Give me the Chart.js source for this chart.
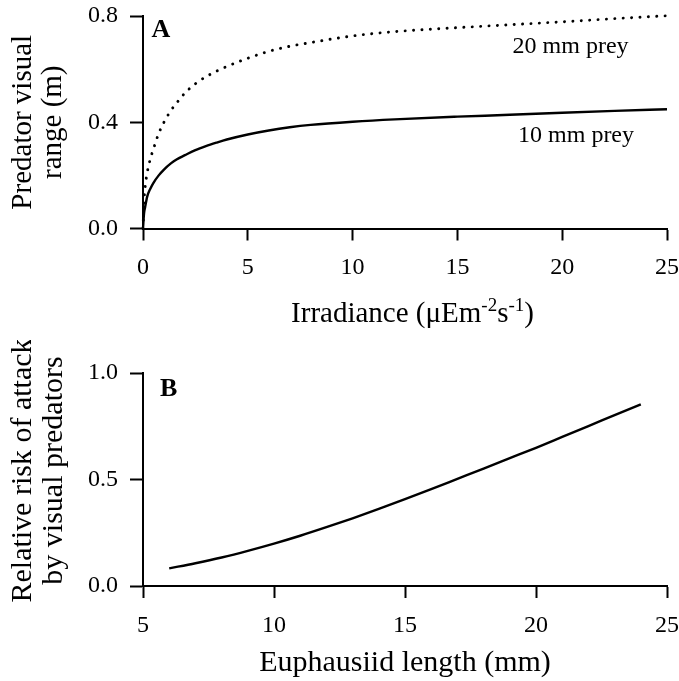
<!DOCTYPE html>
<html><head><meta charset="utf-8">
<script src="https://cdn.jsdelivr.net/npm/chart.js@4.4.1/dist/chart.umd.min.js"></script>
<style>
html,body{margin:0;padding:0;background:#fff;}
#wrap{position:relative;width:679px;height:681px;background:#fff;}
canvas{position:absolute;left:0;}
#cA{top:0;} #cB{top:340px;}
</style></head><body>
<div id="wrap"><canvas id="cA" width="679" height="340"></canvas><canvas id="cB" width="679" height="341"></canvas></div>
<script>
// ---- Panel A data ----
const irradiance = [0, 0.05, 0.1, 0.2, 0.35, 0.5, 0.75, 1, 1.33, 1.6, 2, 2.5, 3, 3.5, 4, 5, 6, 7, 8, 10, 12, 15, 17.5, 20, 22.5, 25];
const range10mm  = [0, 0.057, 0.08, 0.12, 0.15, 0.172, 0.2, 0.222, 0.245, 0.26, 0.276, 0.295, 0.31, 0.323, 0.335, 0.354, 0.369, 0.381, 0.39, 0.402, 0.411, 0.421, 0.428, 0.436, 0.443, 0.449];
const range20mm  = [0, 0.107, 0.155, 0.21, 0.262, 0.3, 0.358, 0.4, 0.444, 0.472, 0.51, 0.545, 0.571, 0.592, 0.61, 0.641, 0.667, 0.686, 0.7, 0.725, 0.741, 0.756, 0.767, 0.778, 0.79, 0.801];
const irradianceTicks = [0, 5, 10, 15, 20, 25];
const rangeTicks = [0, 0.4, 0.8];
const seriesLabelsA = ['10 mm prey', '20 mm prey'];
// ---- Panel B data ----
const euphausiidLength = [6, 7, 8, 9, 10, 11, 12, 13, 14, 15, 16, 17, 18, 19, 20, 21, 22, 23, 24];
const relativeRisk = [0.083, 0.107, 0.134, 0.165, 0.199, 0.236, 0.276, 0.318, 0.362, 0.408, 0.455, 0.503, 0.551, 0.6, 0.649, 0.7, 0.751, 0.802, 0.853];
const lengthTicks = [5, 10, 15, 20, 25];
const riskTicks = [0, 0.5, 1.0];

const SERIF = '"Liberation Serif", "Times New Roman", Times, serif';
const BLACK = '#000';

function pts(xs, ys) { return xs.map((x, i) => ({x: x, y: ys[i]})); }

const textPlugin = {
  id: 'textPlugin',
  afterDraw(chart, args, opts) {
    const ctx = chart.ctx, sx = chart.scales.x, sy = chart.scales.y, ca = chart.chartArea;
    ctx.save();
    ctx.fillStyle = BLACK;
    (opts.labels || []).forEach(l => {
      ctx.font = l.font;
      ctx.textAlign = l.align || 'center';
      ctx.textBaseline = 'middle';
      ctx.fillText(l.text, sx.getPixelForValue(l.x), sy.getPixelForValue(l.y));
    });
    if (opts.supTitle) {
      const t = opts.supTitle;
      let total = 0;
      t.parts.forEach(p => { ctx.font = (p.sup ? t.supSize : t.size) + 'px ' + SERIF; p.w = ctx.measureText(p.text).width; total += p.w; });
      let x = (ca.left + ca.right) / 2 + t.dx - total / 2;
      ctx.textAlign = 'left';
      ctx.textBaseline = 'alphabetic';
      t.parts.forEach(p => {
        ctx.font = (p.sup ? t.supSize : t.size) + 'px ' + SERIF;
        ctx.fillText(p.text, x, t.baseline - (p.sup ? t.rise : 0));
        x += p.w;
      });
    }
    if (opts.yTitle) {
      const t = opts.yTitle;
      const cy = (ca.top + ca.bottom) / 2 + t.dy;
      ctx.font = t.size + 'px ' + SERIF;
      ctx.textAlign = 'center';
      ctx.textBaseline = 'middle';
      t.lines.forEach((line, i) => {
        ctx.save();
        ctx.translate(t.x0 + i * t.gap, cy);
        ctx.rotate(-Math.PI / 2);
        ctx.fillText(line, 0, 0);
        ctx.restore();
      });
    }
    ctx.restore();
  }
};

function xAxis(min, max, ticks, h, title) {
  return {
    type: 'linear', min: min, max: max,
    afterBuildTicks: s => { s.ticks = ticks.map(v => ({value: v})); },
    afterFit: s => { s.height = h; s.paddingLeft = 0; s.paddingRight = 0; },
    grid: {drawOnChartArea: false, drawTicks: true, tickLength: 12, tickWidth: 2, tickColor: BLACK, color: BLACK},
    border: {display: true, color: BLACK, width: 2},
    ticks: {color: BLACK, font: {family: SERIF, size: 24}, padding: 13, maxRotation: 0, autoSkip: false,
            callback: v => String(v)},
    title: title
  };
}
function yAxis(min, max, ticks, title) {
  return {
    type: 'linear', min: min, max: max,
    afterBuildTicks: s => { s.ticks = ticks.map(v => ({value: v})); },
    afterFit: s => { s.width = 143; s.paddingTop = 0; s.paddingBottom = 0; },
    grid: {drawOnChartArea: false, drawTicks: true, tickLength: 13, tickWidth: 2, tickColor: BLACK, color: BLACK},
    border: {display: true, color: BLACK, width: 2},
    ticks: {color: BLACK, font: {family: SERIF, size: 24}, padding: 12, autoSkip: false,
            callback: v => Number(v).toFixed(1)},
    title: title
  };
}

const common = {
  responsive: false, animation: false, devicePixelRatio: 1,
  plugins: {legend: {display: false}, tooltip: {enabled: false}},
  elements: {point: {radius: 0}}
};

new Chart(document.getElementById('cA'), {
  type: 'line',
  data: {
    datasets: [
      {label: seriesLabelsA[0], data: pts(irradiance, range10mm), borderColor: BLACK, borderWidth: 2.4,
       cubicInterpolationMode: 'monotone', fill: false, clip: 4},
      {label: seriesLabelsA[1], data: pts(irradiance, range20mm), borderColor: BLACK, borderWidth: 2.9,
       borderDash: [0.1, 8.3], borderCapStyle: 'round', cubicInterpolationMode: 'monotone', fill: false, clip: 4}
    ]
  },
  options: Object.assign({}, common, {
    layout: {padding: {top: 16, right: 12, left: 0, bottom: 0}},
    scales: {
      x: xAxis(0, 25, irradianceTicks, 111.5, {display: false}),
      y: yAxis(0, 0.8, rangeTicks, {display: true, text: ['Predator visual', 'range (m)'], color: BLACK,
            font: {family: SERIF, size: 29, lineHeight: 1.05}, padding: {top: 8, bottom: 0}})
    },
    plugins: Object.assign({}, common.plugins, {
      textPlugin: {
        labels: [
          {text: 'A', x: 0.41, y: 0.746, align: 'left', font: 'bold 26px ' + SERIF},
          {text: seriesLabelsA[1], x: 20.4, y: 0.686, font: '24px ' + SERIF},
          {text: seriesLabelsA[0], x: 20.66, y: 0.348, font: '24px ' + SERIF}
        ],
        supTitle: {
          size: 29, supSize: 19, rise: 11, baseline: 321.5, dx: 7.5,
          parts: [{text: 'Irradiance (\u03BCEm'}, {text: '-2', sup: true}, {text: 's'}, {text: '-1', sup: true}, {text: ')'}]
        }
      }
    })
  }),
  plugins: [textPlugin]
});

new Chart(document.getElementById('cB'), {
  type: 'line',
  data: {
    datasets: [
      {label: 'Relative risk of attack', data: pts(euphausiidLength, relativeRisk), borderColor: BLACK, borderWidth: 2.4,
       cubicInterpolationMode: 'monotone', fill: false, clip: 4}
    ]
  },
  options: Object.assign({}, common, {
    layout: {padding: {top: 33, right: 12, left: 0, bottom: 0}},
    scales: {
      x: xAxis(5, 25, lengthTicks, 95, {display: true, text: 'Euphausiid length (mm)', color: BLACK,
            font: {family: SERIF, size: 30, lineHeight: 1.05}, padding: {top: 0, bottom: 2}}),
      y: yAxis(0, 1.0, riskTicks, {display: false})
    },
    plugins: Object.assign({}, common.plugins, {
      textPlugin: {
        labels: [
          {text: 'B', x: 5.65, y: 0.925, align: 'left', font: 'bold 26px ' + SERIF}
        ],
        yTitle: {lines: ['Relative risk of attack', 'by visual predators'], size: 30, x0: 23, gap: 31, dy: -9}
      }
    })
  }),
  plugins: [textPlugin]
});
</script>
</body></html>
